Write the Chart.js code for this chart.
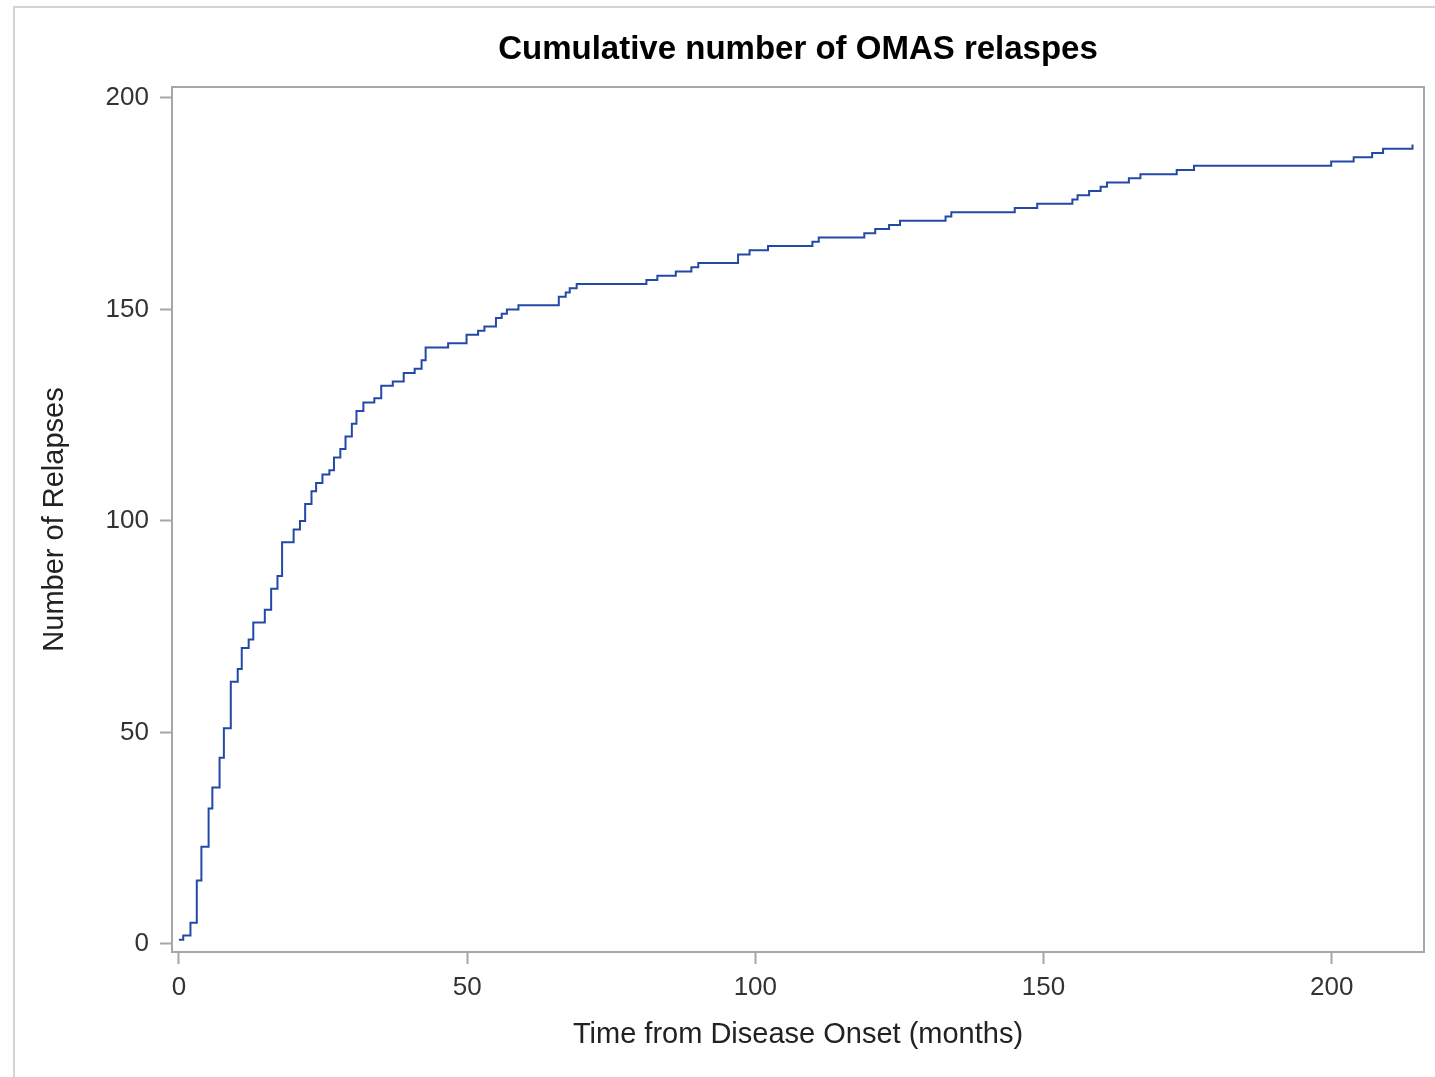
<!DOCTYPE html>
<html>
<head>
<meta charset="utf-8">
<script src="https://cdn.jsdelivr.net/npm/chart.js@4"></script>
<style>
  body { margin: 0; background: #fff; }
  #wrap { position: relative; width: 1435px; height: 1077px; }
  #frame { position: absolute; left: 13px; top: 6px; width: 1430px; height: 1080px; border: 2px solid #d4d4d4; box-sizing: border-box; }
  canvas { position: absolute; left: 0; top: 0; }
</style>
</head>
<body>
<div id="wrap">
  <div id="frame"></div>
  <canvas id="relapses" width="1435" height="1077"></canvas>
</div>
<script>
// time (months) at which the cumulative count steps up, and the new count
const months = [0, 0.75, 2.0, 3.1, 3.9, 5.15, 5.8, 7.05, 7.8, 9.0, 10.2, 10.9, 12.1, 12.9, 14.9, 16.0, 17.1, 17.9, 19.9, 21.0,
  21.9, 23.0, 23.8, 24.9, 26.1, 26.9, 28.0, 28.9, 30.0, 30.8, 32.0, 33.9, 35.1, 37.1, 39.0, 40.9, 42.1, 42.8, 46.7, 49.9,
  51.9, 53.0, 55.0, 56.0, 56.9, 58.9, 65.9, 67.1, 67.8, 69.0, 81.1, 83.0, 86.2, 88.9, 90.1, 97.0, 99.0, 102.2, 109.9, 111.0,
  118.9, 120.8, 123.2, 125.1, 133.0, 134.0, 145.0, 148.9, 155.0, 155.9, 157.9, 159.9, 161.0, 164.8, 166.8, 173.1, 176.1, 199.9, 203.8, 207.0,
  208.9, 214.0];
const relapses = [1, 2, 5, 15, 23, 32, 37, 44, 51, 62, 65, 70, 72, 76, 79, 84, 87, 95, 98, 100,
  104, 107, 109, 111, 112, 115, 117, 120, 123, 126, 128, 129, 132, 133, 135, 136, 138, 141, 142, 144,
  145, 146, 148, 149, 150, 151, 153, 154, 155, 156, 157, 158, 159, 160, 161, 163, 164, 165, 166, 167,
  168, 169, 170, 171, 172, 173, 174, 175, 176, 177, 178, 179, 180, 181, 182, 183, 184, 185, 186, 187,
  188, 189];
const xTicks = [0, 50, 100, 150, 200];
const yTicks = [0, 50, 100, 150, 200];

const axisGrey = "#a3a8ad";
const fontFamily = "'Liberation Sans', Arial, sans-serif";

// box around the plot area (SAS style frame)
const framePlugin = {
  id: "plotFrame",
  afterDraw(chart){
    const a = chart.chartArea;
    const ctx = chart.ctx;
    ctx.save();
    ctx.strokeStyle = axisGrey;
    ctx.lineWidth = 2;
    ctx.strokeRect(a.left, a.top, a.right - a.left, a.bottom - a.top);
    ctx.restore();
  }
};

function makeData(){
  return months.map((m, i) => ({x: m, y: relapses[i]}));
}

const ctx = document.getElementById("relapses");
const chart = new Chart(ctx, {
  type: "line",
  data: {
    datasets: [{
      label: "Relapses",
      data: makeData(),
      stepped: "before",
      borderColor: "#2349a6",
      borderWidth: 2,
      pointRadius: 0,
      fill: false
    }]
  },
  options: {
    responsive: false,
    animation: false,
    layout: { padding: { left: 0, right: 11, top: 0, bottom: 0 } },
    plugins: {
      legend: { display: false },
      tooltip: { enabled: false },
      title: {
        display: true,
        fullSize: false,
        text: "Cumulative number of OMAS relaspes",
        color: "#000",
        font: { family: fontFamily, size: 33, weight: "bold" },
        padding: { top: 30, bottom: 17.4 }
      }
    },
    scales: {
      x: {
        type: "linear",
        min: -1.2,
        max: 216,
        afterBuildTicks: (scale) => { scale.ticks = xTicks.map(v => ({value: v})); },
        afterFit: (scale) => { scale.height = 125; },
        grid: { drawOnChartArea: false, color: axisGrey, tickLength: 12, tickWidth: 2 },
        border: { display: true, color: axisGrey, width: 2 },
        ticks: { color: "#333", font: { family: fontFamily, size: 26 }, padding: 8, maxRotation: 0 },
        title: {
          display: true,
          text: "Time from Disease Onset (months)",
          color: "#222",
          font: { family: fontFamily, size: 29 },
          padding: { top: 0, bottom: 25 }
        }
      },
      y: {
        type: "linear",
        min: -1.9,
        max: 202.6,
        afterBuildTicks: (scale) => { scale.ticks = yTicks.map(v => ({value: v})); },
        afterFit: (scale) => { scale.width = 172; },
        grid: { drawOnChartArea: false, color: axisGrey, tickLength: 12, tickWidth: 2 },
        border: { display: true, color: axisGrey, width: 2 },
        ticks: { color: "#333", font: { family: fontFamily, size: 26 }, padding: 11 },
        title: {
          display: true,
          text: "Number of Relapses",
          color: "#222",
          font: { family: fontFamily, size: 29 },
          padding: { top: 38, bottom: 0 }
        }
      }
    }
  },
  plugins: [framePlugin]
});
</script>
</body>
</html>
